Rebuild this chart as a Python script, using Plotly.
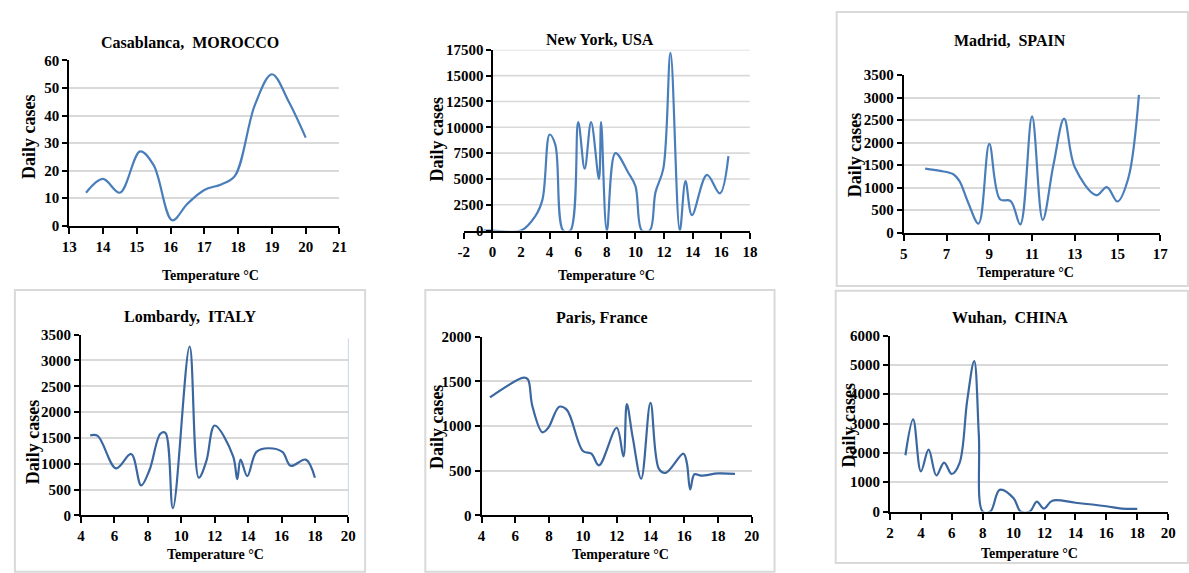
import plotly.graph_objects as go

W, H = 1189, 573

# ---- data: temperature (°C) vs daily cases ----
casa_temp = [13.5, 14, 14.5, 15.1, 15.5, 16.05, 16.5, 17, 17.5, 17.9, 18.5, 19, 19.5, 20]
casa_cases = [12, 17, 12, 27, 22, 2, 8, 13, 15, 18, 44, 55, 45, 32]

ny_temp = [-0.6, 0, 2, 3, 3.5, 4, 4.4, 4.95, 5.45, 6, 6.45, 6.9, 7.45, 7.6, 8, 8.6, 9.5, 10, 10.45,
           11, 11.4, 11.95, 12.45, 13.1, 13.5, 13.95, 15, 15.9, 16.5]
ny_cases = [0, 0, 0, 1400, 3000, 9300, 8300, 0, 0, 10500, 6000, 10500, 5000, 10500, 0, 7500, 5600,
            4300, 0, 0, 3700, 6000, 17200, 0, 4800, 1500, 5400, 3600, 7200]

madrid_temp = [6, 6.7, 7.3, 7.6, 8, 8.5, 9, 9.5, 10, 10.45, 11, 11.5, 12, 12.5, 13, 14, 14.5, 15,
               15.5, 16]
madrid_cases = [1420, 1370, 1300, 1150, 680, 200, 1970, 740, 700, 180, 2580, 280, 1500, 2530, 1450,
                830, 1010, 690, 1200, 3060]

lomb_temp = [4.55, 5, 6.1, 7, 7.6, 8.1, 8.75, 9.05, 9.5, 10.5, 11.05, 11.5, 12, 13.1, 13.35, 13.55,
             13.95, 14.5, 15.2, 16.05, 16.55, 17.45, 18]
lomb_cases = [1550, 1540, 910, 1190, 580, 880, 1580, 1600, 140, 3270, 730, 1050, 1740, 1150, 700,
              1080, 760, 1230, 1300, 1230, 960, 1080, 730]

paris_temp = [4.5, 6.5, 6.75, 7, 7.6, 7.95, 8.6, 9.05, 10, 10.5, 10.95, 12, 12.4, 12.6, 12.95, 13.45,
              14, 14.5, 14.9, 15.95, 16.15, 16.35, 16.6, 17, 18, 19]
paris_cases = [1320, 1540, 1520, 1230, 930, 980, 1215, 1180, 720, 690, 560, 980, 660, 1245, 870, 410,
               1260, 520, 475, 690, 590, 290, 460, 445, 470, 465]

wuhan_temp = [3, 3.5, 4, 4.5, 5, 5.5, 6, 6.5, 7, 7.45, 7.75, 8, 8.5, 9.1, 10, 10.45, 11.05, 11.5,
              11.95, 12.5, 14, 16, 17, 18]
wuhan_cases = [1920, 3140, 1370, 2110, 1230, 1670, 1280, 1650, 3800, 5130, 2600, 0, 0, 740, 450, 0,
               0, 340, 100, 370, 300, 180, 100, 90]

TITLES = ["Casablanca,  MOROCCO", "New York, USA", "Madrid,  SPAIN",
          "Lombardy,  ITALY", "Paris, France", "Wuhan,  CHINA"]
X_LABEL = "Temperature °C"
Y_LABEL = "Daily cases"

series = [(casa_temp, casa_cases), (ny_temp, ny_cases), (madrid_temp, madrid_cases),
          (lomb_temp, lomb_cases), (paris_temp, paris_cases), (wuhan_temp, wuhan_cases)]

# ---- layout of each panel (pixel boxes of the plot areas) ----
panels = [
    dict(box=(62, 336, 54, 224), xr=[13, 21], xd=1, yr=[0, 60], yd=10,
         title=(184, 35), xt=(205, 275), yt=(22, 132), color="#4a7ebb"),
    dict(box=(462, 752, 43, 229), xr=[-2, 18], xd=2, yr=[0, 17500], yd=2500,
         title=(600, 32), xt=(607, 275), yt=(435, 135), color="#4a7ebb"),
    dict(box=(908, 1168, 69, 231), xr=[5, 17], xd=2, yr=[0, 3500], yd=500,
         title=(1016, 33), xt=(1031, 272), yt=(858, 151), color="#4a7ebb"),
    dict(box=(74, 345, 336, 522), xr=[4, 20], xd=2, yr=[0, 3500], yd=500,
         title=(184, 318), xt=(210, 562), yt=(25, 446), color="#3b67a0"),
    dict(box=(480, 754, 338, 522), xr=[4, 20], xd=2, yr=[0, 2000], yd=500,
         title=(602, 318), xt=(621, 562), yt=(435, 431), color="#3b67a0"),
    dict(box=(894, 1176, 337, 518), xr=[2, 20], xd=2, yr=[0, 6000], yd=1000,
         title=(1016, 318), xt=(1035, 561), yt=(852, 429), color="#3b67a0"),
]

FONT = "Liberation Serif"
GRID = "#d9d9d9"


def fx(p):
    return p / W


def fy(p):
    return 1 - p / H


def tick_values(lo, hi, step):
    vals = []
    v = lo
    while v <= hi + 1e-9:
        vals.append(v)
        v += step
    return vals


fig = go.Figure()
layout = dict(width=W, height=H, margin=dict(l=0, r=0, t=0, b=0),
              paper_bgcolor="white", plot_bgcolor="white", showlegend=False)
annotations = []
shapes = []

for i, (p, (xs, ys)) in enumerate(zip(panels, series), start=1):
    sfx = "" if i == 1 else str(i)
    x0, x1, y0, y1 = p["box"]
    fig.add_trace(go.Scatter(
        x=xs, y=ys, mode="lines", xaxis="x" + sfx, yaxis="y" + sfx,
        line=dict(color=p["color"], width=2.2, shape="spline", smoothing=1.0),
        hoverinfo="skip"))

    tickfont = dict(family=FONT, size=15, color="black", weight="bold")
    xvals = tick_values(p["xr"][0], p["xr"][1], p["xd"])
    yvals = tick_values(p["yr"][0], p["yr"][1], p["yd"])
    xa = dict(domain=[fx(x0), fx(x1)], range=p["xr"], tickmode="array", tickvals=xvals,
              ticktext=[str(v) for v in xvals],
              anchor="y" + sfx, showgrid=False, zeroline=False, showline=True,
              linecolor="black", linewidth=2, ticks="outside", ticklen=6, tickwidth=1.5,
              tickcolor="black", tickfont=tickfont, fixedrange=True)
    ya = dict(domain=[fy(y1), fy(y0)], range=p["yr"], tickmode="array", tickvals=yvals,
              ticktext=[str(v) for v in yvals],
              anchor="x" + sfx, showgrid=True, gridcolor=GRID, gridwidth=1.6,
              zeroline=False, showline=True, linecolor="black", linewidth=2,
              ticks="outside", ticklen=5, tickwidth=1.5, tickcolor="black",
              tickfont=tickfont, fixedrange=True)

    if i == 2:
        # y axis crosses the x axis at 0 °C; grid runs from 0 to the right end
        x_zero = x0 + (0 - p["xr"][0]) / (p["xr"][1] - p["xr"][0]) * (x1 - x0)
        ya.update(anchor="free", position=fx(x_zero), showgrid=False)
        for v in yvals[1:]:
            shapes.append(dict(type="line", xref="x2", yref="y2", x0=0, x1=p["xr"][1],
                               y0=v, y1=v, line=dict(color=GRID, width=1.6), layer="below"))

    layout["xaxis" + sfx] = xa
    layout["yaxis" + sfx] = ya

    annotations.append(dict(text=TITLES[i - 1], xref="paper", yref="paper",
                            x=fx(p["title"][0]), y=fy(p["title"][1]), showarrow=False,
                            xanchor="center", yanchor="middle",
                            font=dict(family=FONT, size=16, color="black", weight="bold")))
    annotations.append(dict(text=X_LABEL, xref="paper", yref="paper",
                            x=fx(p["xt"][0]), y=fy(p["xt"][1]), showarrow=False,
                            xanchor="center", yanchor="middle",
                            font=dict(family=FONT, size=14, color="black", weight="bold")))
    annotations.append(dict(text=Y_LABEL, xref="paper", yref="paper", textangle=-90,
                            x=fx(p["yt"][0]), y=fy(p["yt"][1]), showarrow=False,
                            xanchor="center", yanchor="middle",
                            font=dict(family=FONT, size=18, color="black", weight="bold")))

# faint right edge of the Lombardy plot area
shapes.append(dict(type="line", xref="paper", yref="paper", x0=fx(345), x1=fx(345),
                   y0=fy(340), y1=fy(522), line=dict(color="#c9d5e6", width=1)))

# light grey chart frames
frames = [(840, 1196, 4, 286), (7, 362, 290, 580), (423, 777, 290, 580), (839, 1196, 291, 571)]
for (a, b, c, d) in frames:
    shapes.append(dict(type="rect", xref="paper", yref="paper", x0=fx(a), x1=fx(b),
                       y0=fy(d), y1=fy(c), line=dict(color=GRID, width=2),
                       fillcolor="rgba(0,0,0,0)", layer="below"))

layout["annotations"] = annotations
layout["shapes"] = shapes
fig.update_layout(**layout)

fig.write_html("out.html")
